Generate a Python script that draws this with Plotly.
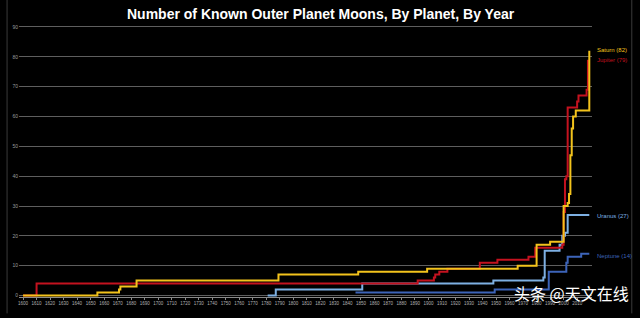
import plotly.graph_objects as go

# ---- data (year of change, known moon count) ----
jupiter_years = [1600, 1610, 1892, 1904, 1905, 1908, 1914, 1938, 1951, 1974, 1979, 1999, 2000, 2001, 2002, 2003, 2010, 2011, 2017, 2018]
jupiter_counts = [0, 4, 5, 6, 7, 8, 9, 11, 12, 13, 16, 17, 28, 39, 40, 63, 65, 67, 69, 79]

saturn_years = [1600, 1655, 1671, 1672, 1684, 1789, 1848, 1899, 1966, 1980, 1990, 2000, 2003, 2004, 2005, 2006, 2007, 2009, 2019]
saturn_counts = [0, 1, 2, 3, 5, 7, 8, 9, 10, 17, 18, 30, 31, 34, 47, 56, 60, 62, 82]

uranus_years = [1781, 1787, 1851, 1948, 1985, 1986, 1997, 1999, 2001, 2003, 2019]
uranus_counts = [0, 2, 4, 5, 6, 15, 17, 20, 21, 27, 27]

neptune_years = [1846, 1949, 1989, 2002, 2003, 2013, 2019]
neptune_counts = [1, 2, 8, 11, 13, 14, 14]

planet_names = ["Neptune", "Uranus", "Jupiter", "Saturn"]
x_ticks = list(range(1600, 2011, 10))
y_ticks = list(range(0, 91, 10))

series = {
    "Neptune": (neptune_years, neptune_counts, "#3d64b9"),
    "Uranus": (uranus_years, uranus_counts, "#7eb0e3"),
    "Jupiter": (jupiter_years, jupiter_counts, "#c4121f"),
    "Saturn": (saturn_years, saturn_counts, "#f3c31c"),
}
label_py = {"Saturn": 50, "Jupiter": 61, "Uranus": 220, "Neptune": 260}

PLOT_LEFT, PLOT_RIGHT = 16, 592
PLOT_TOP, PLOT_BOTTOM = 24, 302
FONT = "Liberation Sans, Arial, sans-serif"


def py_to_paper(py):
    return (PLOT_BOTTOM - py) / (PLOT_BOTTOM - PLOT_TOP)


def px_to_paper(px):
    return (px - PLOT_LEFT) / (PLOT_RIGHT - PLOT_LEFT)


fig = go.Figure()
for name in planet_names:
    xs, ys, col = series[name]
    fig.add_trace(go.Scatter(x=xs, y=ys, mode="lines", line=dict(color=col, width=2, shape="hv"),
                             name=name, showlegend=False, hoverinfo="skip"))
    fig.add_annotation(x=px_to_paper(595), y=py_to_paper(label_py[name]), xref="paper", yref="paper",
                       text=f"{name} ({ys[-1]})",
                       showarrow=False, xanchor="left", yanchor="middle",
                       font=dict(family=FONT, size=6, color=col))

fig.add_annotation(x=px_to_paper(320), y=py_to_paper(14), xref="paper", yref="paper",
                   text="<b>Number of Known Outer Planet Moons, By Planet, By Year</b>",
                   showarrow=False, xanchor="center", yanchor="middle",
                   font=dict(family=FONT, size=14, color="#ffffff"))

fig.add_annotation(x=px_to_paper(631), y=py_to_paper(298), xref="paper", yref="paper",
                   text="头条 @天文在线", showarrow=False, xanchor="right", yanchor="middle",
                   font=dict(family="Noto Sans CJK SC", size=16, color="#ffffff"))

# frame lines
for px in (4, 632):
    fig.add_shape(type="line", xref="paper", yref="paper", x0=px_to_paper(px), x1=px_to_paper(px),
                  y0=-0.06, y1=1.1, line=dict(color="#3a3a3a", width=1))

fig.update_layout(
    width=640, height=318,
    margin=dict(l=PLOT_LEFT, r=640 - PLOT_RIGHT, t=PLOT_TOP, b=318 - PLOT_BOTTOM),
    paper_bgcolor="#000000", plot_bgcolor="#000000",
    xaxis=dict(range=[1597, 2021], tickvals=x_ticks, ticktext=[str(v) for v in x_ticks],
               tickangle=0, showgrid=False, zeroline=False, showline=True, linecolor="#8a8a8a", linewidth=1,
               ticks="outside", ticklen=2, tickcolor="#8a8a8a",
               tickfont=dict(family=FONT, size=4.5, color="#b0b0b0")),
    yaxis=dict(range=[-0.5, 91], tickvals=y_ticks, showgrid=True, gridcolor="#5e5e5e", gridwidth=1,
               zeroline=False, showline=False, ticks="",
               tickfont=dict(family=FONT, size=5, color="#9a9a9a")),
)

fig.write_html("out.html")
